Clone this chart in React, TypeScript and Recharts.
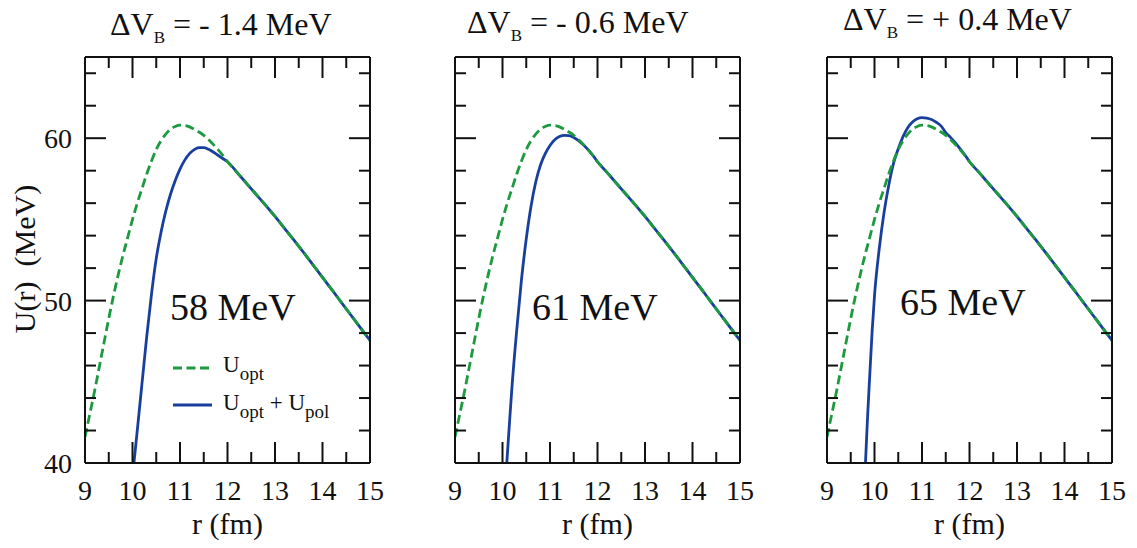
import React from 'react';
import { LineChart, Line, XAxis, YAxis } from 'recharts';

// ---- styling -------------------------------------------------------------
const SERIF = '"Liberation Serif", "DejaVu Serif", "Times New Roman", Times, serif';
const GREEN = '#1d9a3f';
const BLUE = '#183f9c';
const INK = '#111111';

// ---- axes ----------------------------------------------------------------
const R_DOMAIN: [number, number] = [9, 15];
const U_DOMAIN: [number, number] = [40, 65];
const X_MAJOR = [9, 10, 11, 12, 13, 14, 15];
const X_MINOR = [9.5, 10.5, 11.5, 12.5, 13.5, 14.5];
const Y_MAJOR = [40, 50, 60];
const Y_MINOR = [42, 44, 46, 48, 52, 54, 56, 58, 62, 64];

// ---- data: optical potential U_opt (identical in every panel) ------------
const U_OPT_R = [
  9.0, 9.1, 9.2, 9.3, 9.4, 9.5, 9.6, 9.7, 9.8, 9.9, 10.0, 10.1, 10.2, 10.3, 10.4,
  10.5, 10.6, 10.7, 10.8, 10.9, 11.0, 11.1, 11.2, 11.3, 11.4, 11.5, 11.6, 11.7, 11.8, 11.9,
];
const U_OPT_U = [
  41.6, 43.0, 44.4, 45.9, 47.4, 48.9, 50.3, 51.6, 52.8, 53.9, 55.0, 56.0, 56.9, 57.8, 58.6,
  59.3, 59.85, 60.25, 60.55, 60.72, 60.8, 60.78, 60.7, 60.55, 60.38, 60.18, 59.92, 59.62, 59.3, 58.95,
];

// Outer region where U_opt and U_opt + U_pol coincide
const TAIL_R = [12.0, 12.2, 12.4, 12.6, 12.8, 13.0, 13.2, 13.4, 13.6, 13.8, 14.0, 14.2, 14.4, 14.6, 14.8, 15.0];
const TAIL_U = [58.55, 57.9, 57.22, 56.55, 55.88, 55.18, 54.45, 53.72, 52.97, 52.2, 51.43, 50.66, 49.88, 49.1, 48.32, 47.55];

// ---- data: U_opt + U_pol, inner part for each barrier shift --------------
const POL_A_R = [10.03, 10.1, 10.2, 10.3, 10.4, 10.5, 10.6, 10.7, 10.8, 10.9, 11.0, 11.1, 11.2, 11.3, 11.4, 11.5, 11.6, 11.7, 11.8, 11.9];
const POL_A_U = [40.0, 42.0, 44.9, 47.8, 50.4, 52.6, 54.2, 55.5, 56.55, 57.4, 58.1, 58.65, 59.05, 59.3, 59.42, 59.42, 59.32, 59.15, 58.95, 58.75];

const POL_B_R = [10.09, 10.15, 10.2, 10.3, 10.4, 10.5, 10.6, 10.7, 10.8, 10.9, 11.0, 11.1, 11.2, 11.3, 11.4, 11.5, 11.6, 11.7, 11.8, 11.9];
const POL_B_U = [40.0, 42.6, 44.7, 48.2, 51.3, 53.8, 55.8, 57.3, 58.35, 59.05, 59.55, 59.9, 60.1, 60.18, 60.16, 60.05, 59.85, 59.6, 59.3, 58.95];

const POL_C_R = [9.81, 9.85, 9.9, 9.95, 10.0, 10.1, 10.2, 10.3, 10.4, 10.5, 10.6, 10.7, 10.8, 10.9, 11.0, 11.1, 11.2, 11.3, 11.4, 11.5, 11.6, 11.7, 11.8, 11.9];
const POL_C_U = [40.0, 42.6, 45.4, 48.1, 50.3, 53.2, 55.4, 57.1, 58.45, 59.35, 60.1, 60.65, 61.0, 61.2, 61.27, 61.24, 61.15, 60.98, 60.76, 60.35, 60.05, 59.72, 59.36, 58.98];

// ---- panel labels --------------------------------------------------------
const BARRIER_SHIFTS = ['- 1.4', '- 0.6', '+ 0.4'];
const ENERGIES = ['58 MeV', '61 MeV', '65 MeV'];

type Pt = { r: number; u: number };
const toPoints = (r: number[], u: number[]): Pt[] => r.map((x, i) => ({ r: x, u: u[i] }));
const uOpt = toPoints([...U_OPT_R, ...TAIL_R], [...U_OPT_U, ...TAIL_U]);
const withTail = (r: number[], u: number[]) => toPoints([...r, ...TAIL_R], [...u, ...TAIL_U]);
const uPolSeries = [withTail(POL_A_R, POL_A_U), withTail(POL_B_R, POL_B_U), withTail(POL_C_R, POL_C_U)];

// ---- layout --------------------------------------------------------------
const W = 1137;
const H = 548;
const PLOT_LEFT = [85, 455, 827];
const PLOT_TOP = 57;
const PLOT_W = 285;
const PLOT_H = 406;
const M_LEFT = 85;
const M_RIGHT = 40;
const CHART_W = M_LEFT + PLOT_W + M_RIGHT;
// each side carries two 1px-thick axes (major + minor ticks)
const AXIS_T = 1;

const TITLE_POS = [
  { x: 110, y: 35 },
  { x: 467, y: 33 },
  { x: 843, y: 30 },
];
const ENERGY_POS = [
  { x: 170, y: 320 },
  { x: 532, y: 320 },
  { x: 900, y: 315 },
];

const frame = { stroke: INK, strokeWidth: 2 };
const tickFont = { fontSize: 28, fill: INK, fontFamily: SERIF };
// tick marks without a number next to them
const noLabel = () => <g />;

function Panel({ index }: { index: number }) {
  const showY = index === 0;
  const common = { type: 'number' as const, dataKey: 'r', domain: R_DOMAIN, allowDataOverflow: true, interval: 0 as const, height: AXIS_T };
  const commonY = { type: 'number' as const, domain: U_DOMAIN, allowDataOverflow: true, interval: 0 as const, width: AXIS_T };
  return (
    <div style={{ position: 'absolute', left: PLOT_LEFT[index] - M_LEFT, top: 0 }}>
      <LineChart
        width={CHART_W}
        height={H}
        margin={{
          top: PLOT_TOP - 2 * AXIS_T,
          bottom: H - PLOT_TOP - PLOT_H - 2 * AXIS_T,
          left: M_LEFT - 2 * AXIS_T,
          right: M_RIGHT - 2 * AXIS_T,
        }}
      >
        <XAxis xAxisId="b" {...common} ticks={X_MAJOR} tickSize={-21} tickMargin={38} tick={tickFont} axisLine={frame} tickLine={frame} />
        <XAxis xAxisId="bm" {...common} ticks={X_MINOR} tickSize={-12} tick={noLabel} axisLine={false} tickLine={frame} />
        <XAxis xAxisId="t" {...common} orientation="top" ticks={X_MAJOR} tickSize={-21} tick={noLabel} axisLine={frame} tickLine={frame} />
        <XAxis xAxisId="tm" {...common} orientation="top" ticks={X_MINOR} tickSize={-12} tick={noLabel} axisLine={false} tickLine={frame} />
        <YAxis yAxisId="l" {...commonY} ticks={Y_MAJOR} tickSize={-21} tickMargin={34} tick={showY ? tickFont : noLabel} axisLine={frame} tickLine={frame} />
        <YAxis yAxisId="lm" {...commonY} ticks={Y_MINOR} tickSize={-12} tick={noLabel} axisLine={false} tickLine={frame} />
        <YAxis yAxisId="r" {...commonY} orientation="right" ticks={Y_MAJOR} tickSize={-21} tick={noLabel} axisLine={frame} tickLine={frame} />
        <YAxis yAxisId="rm" {...commonY} orientation="right" ticks={Y_MINOR} tickSize={-12} tick={noLabel} axisLine={false} tickLine={frame} />
        <Line
          xAxisId="b"
          yAxisId="l"
          data={uPolSeries[index]}
          dataKey="u"
          type="monotone"
          stroke={BLUE}
          strokeWidth={2.8}
          dot={false}
          activeDot={false}
          isAnimationActive={false}
        />
        <Line
          xAxisId="b"
          yAxisId="l"
          data={uOpt}
          dataKey="u"
          type="monotone"
          stroke={GREEN}
          strokeWidth={2.8}
          strokeDasharray="9 4.5"
          dot={false}
          activeDot={false}
          isAnimationActive={false}
        />
      </LineChart>
    </div>
  );
}

function Annotations() {
  return (
    <svg
      width={W}
      height={H}
      style={{ position: 'absolute', left: 0, top: 0, pointerEvents: 'none', fontFamily: SERIF }}
      fill={INK}
    >
      {BARRIER_SHIFTS.map((s, i) => (
        <text key={`t${i}`} x={TITLE_POS[i].x} y={TITLE_POS[i].y} fontSize={32} style={{ whiteSpace: 'pre' }}>
          ΔV
          <tspan fontSize={17} dy={8}>B</tspan>
          <tspan dy={-8}>{` = ${s} MeV`}</tspan>
        </text>
      ))}
      {ENERGIES.map((e, i) => (
        <text key={`e${i}`} x={ENERGY_POS[i].x} y={ENERGY_POS[i].y} fontSize={38}>
          {e}
        </text>
      ))}
      {PLOT_LEFT.map((l, i) => (
        <text key={`x${i}`} x={l + PLOT_W / 2} y={534} fontSize={30} textAnchor="middle">
          r (fm)
        </text>
      ))}
      <text transform="translate(35,259) rotate(-90)" fontSize={30} textAnchor="middle" style={{ whiteSpace: 'pre' }}>
        {'U(r)  (MeV)'}
      </text>
      {/* legend */}
      <line x1={173} x2={212} y1={368} y2={368} stroke={GREEN} strokeWidth={2.8} strokeDasharray="9 4.5" />
      <text x={223} y={372} fontSize={23}>
        U<tspan fontSize={19} dy={8}>opt</tspan>
      </text>
      <line x1={173} x2={212} y1={405} y2={405} stroke={BLUE} strokeWidth={2.8} />
      <text x={223} y={410} fontSize={23} style={{ whiteSpace: 'pre' }}>
        U<tspan fontSize={19} dy={8}>opt</tspan>
        <tspan dy={-8}>{' + U'}</tspan>
        <tspan fontSize={19} dy={8}>pol</tspan>
      </text>
    </svg>
  );
}

export default function App() {
  return (
    <div style={{ position: 'absolute', left: 0, top: 0, width: W, height: H, background: '#fff' }}>
      {[0, 1, 2].map((i) => (
        <Panel key={i} index={i} />
      ))}
      <Annotations />
    </div>
  );
}
